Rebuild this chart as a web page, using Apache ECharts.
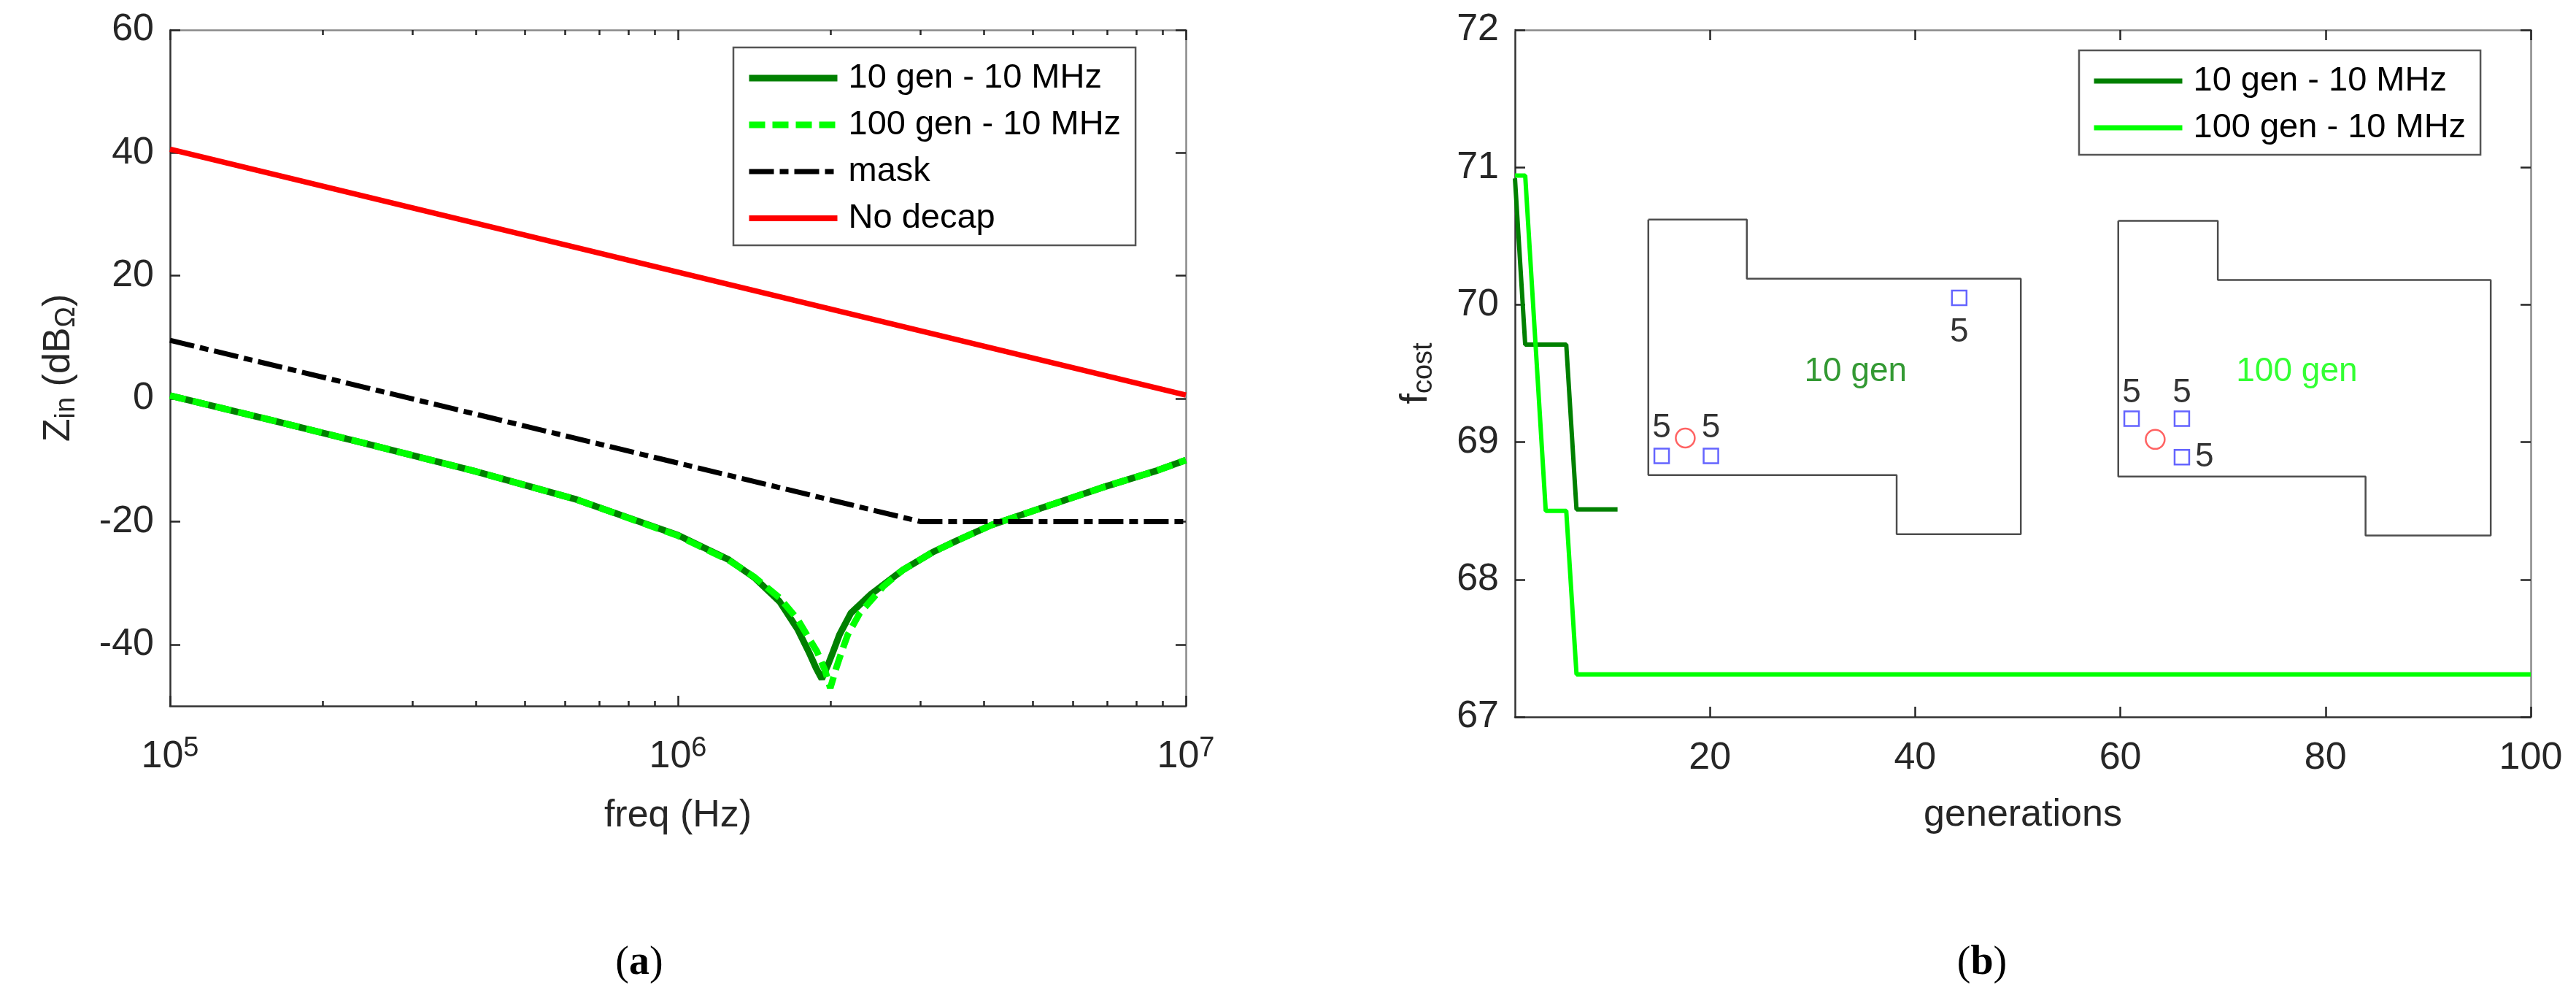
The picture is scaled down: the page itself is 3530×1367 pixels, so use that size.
<!DOCTYPE html>
<html>
<head>
<meta charset="utf-8">
<script src="https://cdn.jsdelivr.net/npm/echarts@6/dist/echarts.min.js"></script>
<style>
    html, body { margin: 0; padding: 0; background: #fff; }
    #chart { width: 3530px; height: 1367px; }
</style>
</head>
<body>
<div id="chart"></div>
<script>
    // (a) input impedance vs frequency
    const freqs10Gen = [1e5, 1.585e5, 2.512e5, 3.981e5, 6.31e5, 1e6, 1.259e6, 1.413e6, 1.585e6, 1.72e6, 1.81e6, 1.87e6, 1.92e6, 1.97e6, 2.02e6, 2.08e6, 2.19e6, 2.4e6, 2.77e6, 3.17e6, 3.52e6, 4.13e6, 5.24e6, 6.82e6, 8.77e6, 1e7];
    const zin10Gen = [0.5, -3.5, -7.6, -11.8, -16.4, -22.2, -26.2, -29.1, -33.0, -37.5, -41.2, -43.8, -45.6, -43.5, -41.2, -38.4, -34.9, -31.8, -27.9, -25.0, -23.2, -20.6, -17.7, -14.5, -11.7, -10.0];
    const freqs100Gen = [1e5, 1.585e5, 2.512e5, 3.981e5, 6.31e5, 1e6, 1.259e6, 1.413e6, 1.585e6, 1.72e6, 1.88e6, 1.95e6, 1.995e6, 2.05e6, 2.1e6, 2.16e6, 2.28e6, 2.54e6, 2.77e6, 3.17e6, 3.52e6, 4.13e6, 5.24e6, 6.82e6, 8.77e6, 1e7];
    const zin100Gen = [0.5, -3.5, -7.6, -11.8, -16.4, -22.3, -26.3, -29.0, -32.4, -35.9, -41.2, -44.3, -47.1, -43.8, -41.2, -38.4, -34.9, -30.5, -27.9, -25.0, -23.2, -20.6, -17.7, -14.5, -11.7, -10.0];
    const maskFreqs = [1e5, 3e6, 1e7];
    const maskZin = [9.5, -20, -20];
    const noDecapFreqs = [1e5, 1e7];
    const noDecapZin = [40.6, 0.6];
    const zinTicks = [-40, -20, 0, 20, 40, 60];
    const minorFreqs = [2e5, 3e5, 4e5, 5e5, 6e5, 7e5, 8e5, 9e5, 2e6, 3e6, 4e6, 5e6, 6e6, 7e6, 8e6, 9e6];

    // (b) cost function vs generations
    const gens10 = [1, 2, 6, 7, 11];
    const cost10 = [70.92, 69.71, 69.71, 68.51, 68.51];
    const gens100 = [1, 2, 3, 4, 6, 7, 100];
    const cost100 = [70.94, 70.94, 69.72, 68.50, 68.50, 67.31, 67.31];
    const genTicks = [20, 40, 60, 80, 100];

    // board outlines drawn inside (b)
    const board10X = [14.0, 23.6, 23.6, 50.3, 50.3, 38.2, 38.2, 14.0, 14.0];
    const board10Y = [70.62, 70.62, 70.19, 70.19, 68.33, 68.33, 68.76, 68.76, 70.62];
    const board100X = [59.8, 69.5, 69.5, 96.1, 96.1, 83.9, 83.9, 59.8, 59.8];
    const board100Y = [70.61, 70.61, 70.18, 70.18, 68.32, 68.32, 68.75, 68.75, 70.61];
    const decapX = [15.3, 20.1, 44.3, 61.1, 66.0, 66.0];
    const decapY = [68.90, 68.90, 70.05, 69.17, 69.17, 68.89];
    const portX = [17.6, 63.4];
    const portY = [69.03, 69.02];
    const decapLabelX = [15.3, 20.1, 44.3, 61.1, 66.0, 68.2];
    const decapLabelY = [69.10, 69.10, 69.80, 69.36, 69.36, 68.89];
    const decapLabels = ['5', '5', '5', '5', '5', '5'];
    const boardNames = ['10 gen', '100 gen'];
    const boardNameX = [34.2, 77.2];
    const boardNameY = [69.51, 69.51];

    const FONT = '"Liberation Sans", Arial, Helvetica, sans-serif';
    const SERIF = '"Liberation Serif", "Times New Roman", serif';
    const TXT = '#262626';
    const DARK = '#008000';
    const LIGHT = '#00ff00';

    function pairs(xs, ys) {
        return xs.map((x, i) => [x, ys[i]]);
    }

    // MATLAB-like box axis: ticks inside, no grid
    function boxAxis(extra, dark) {
        return Object.assign({
            axisLine: { show: true, onZero: false, lineStyle: { color: dark ? '#333' : '#8a8a8a', width: 2.5 } },
            axisTick: { show: true, inside: true, length: 14, lineStyle: { color: TXT, width: 2.5 } },
            axisLabel: { show: false },
            splitLine: { show: false }
        }, extra);
    }

    function minorAxis(position) {
        return {
            type: 'value', min: 5, max: 7, gridIndex: 0, position: position,
            axisLine: { show: false, onZero: false },
            axisTick: { show: true, inside: true, length: 7, customValues: minorFreqs.map(Math.log10), lineStyle: { color: TXT, width: 2.5 } },
            axisLabel: { show: false },
            splitLine: { show: false }
        };
    }

    function legendBox(left, top, data) {
        return {
            data: data,
            orient: 'vertical', left: left, top: top,
            itemWidth: 121, itemHeight: 14, itemGap: 14,
            padding: [17, 20, 12, 17],
            itemStyle: { opacity: 0 },
            backgroundColor: '#fff', borderColor: '#555', borderWidth: 2.5, borderRadius: 0,
            textStyle: { color: '#000', fontFamily: FONT, fontSize: 47, lineHeight: 50, padding: [0, 0, 0, 10] }
        };
    }

    const tickLabel = { color: TXT, fontFamily: FONT, fontSize: 52, lineHeight: 60 };
    const nameStyle = { color: TXT, fontFamily: FONT, fontSize: 52, lineHeight: 60 };
    const subRich = {
        a: { color: TXT, fontFamily: FONT, fontSize: 52, lineHeight: 60 },
        sub: { color: TXT, fontFamily: FONT, fontSize: 38, lineHeight: 36, verticalAlign: 'bottom' }
    };

    const chart = echarts.init(document.getElementById('chart'));

    const option = {
        backgroundColor: '#fff',
        animation: false,
        grid: [
            { left: 233, top: 41, width: 1392, height: 926 },
            { left: 2076, top: 41, width: 1392, height: 941 }
        ],
        xAxis: [
            boxAxis({
                type: 'log', logBase: 10, min: 1e5, max: 1e7, gridIndex: 0, position: 'bottom',
                name: 'freq (Hz)', nameLocation: 'middle', nameGap: 121, nameTextStyle: nameStyle,
                axisLabel: {
                    show: true, margin: 40,
                    formatter: v => '{b|10}{s|' + Math.round(Math.log10(v)) + '}',
                    rich: {
                        b: { color: TXT, fontFamily: FONT, fontSize: 52, lineHeight: 60 },
                        s: { color: TXT, fontFamily: FONT, fontSize: 38, lineHeight: 34, verticalAlign: 'top' }
                    }
                }
            }, true),
            boxAxis({ type: 'log', logBase: 10, min: 1e5, max: 1e7, gridIndex: 0, position: 'top' }, false),
            minorAxis('bottom'),
            minorAxis('top'),
            boxAxis({
                type: 'value', min: 1, max: 100, gridIndex: 1, position: 'bottom',
                name: 'generations', nameLocation: 'middle', nameGap: 105, nameTextStyle: nameStyle,
                axisTick: { show: true, inside: true, length: 14, customValues: genTicks, lineStyle: { color: TXT, width: 2.5 } },
                axisLabel: Object.assign({ show: true, margin: 27, customValues: genTicks }, tickLabel)
            }, true),
            boxAxis({
                type: 'value', min: 1, max: 100, gridIndex: 1, position: 'top',
                axisTick: { show: true, inside: true, length: 14, customValues: genTicks, lineStyle: { color: TXT, width: 2.5 } }
            }, false)
        ],
        yAxis: [
            boxAxis({
                type: 'value', min: -50, max: 60, gridIndex: 0, position: 'left',
                name: '{a|Z}{sub|in}{a| (dB}{sub|Ω}{a|)}', nameLocation: 'middle', nameGap: 122,
                nameTextStyle: { rich: subRich },
                axisTick: { show: true, inside: true, length: 14, customValues: zinTicks, lineStyle: { color: TXT, width: 2.5 } },
                axisLabel: Object.assign({ show: true, margin: 22, customValues: zinTicks }, tickLabel)
            }, true),
            boxAxis({
                type: 'value', min: -50, max: 60, gridIndex: 0, position: 'right',
                axisTick: { show: true, inside: true, length: 14, customValues: zinTicks, lineStyle: { color: TXT, width: 2.5 } }
            }, false),
            boxAxis({
                type: 'value', min: 67, max: 72, interval: 1, gridIndex: 1, position: 'left',
                name: '{a|f}{sub|cost}', nameLocation: 'middle', nameGap: 105,
                nameTextStyle: { rich: subRich },
                axisLabel: Object.assign({ show: true, margin: 22 }, tickLabel)
            }, true),
            boxAxis({ type: 'value', min: 67, max: 72, interval: 1, gridIndex: 1, position: 'right' }, false)
        ],
        legend: [
            legendBox(1005, 65, [
                { name: '10 gen - 10 MHz', lineStyle: { width: 9 } },
                { name: '100 gen - 10 MHz', lineStyle: { width: 9 } },
                { name: 'mask', lineStyle: { width: 7 } },
                { name: 'No decap', lineStyle: { width: 8 } }
            ]),
            legendBox(2849, 69, [
                { name: '10 gen - 10 MHz', lineStyle: { type: 'solid', color: DARK, width: 7 } },
                { name: '100 gen - 10 MHz', lineStyle: { type: 'solid', color: LIGHT, width: 7 } }
            ])
        ],
        series: [
            {
                name: '10 gen - 10 MHz', type: 'line', xAxisIndex: 0, yAxisIndex: 0,
                data: pairs(freqs10Gen, zin10Gen), symbol: 'none',
                lineStyle: { color: DARK, width: 9 }, itemStyle: { color: DARK }
            },
            {
                name: '100 gen - 10 MHz', type: 'line', xAxisIndex: 0, yAxisIndex: 0,
                data: pairs(freqs100Gen, zin100Gen), symbol: 'none',
                lineStyle: { color: LIGHT, width: 9, type: [22, 10] }, itemStyle: { color: LIGHT }
            },
            {
                name: 'mask', type: 'line', xAxisIndex: 0, yAxisIndex: 0,
                data: pairs(maskFreqs, maskZin), symbol: 'none',
                lineStyle: { color: '#000', width: 7, type: [34, 8, 12, 8] }, itemStyle: { color: '#000' }
            },
            {
                name: 'No decap', type: 'line', xAxisIndex: 0, yAxisIndex: 0,
                data: pairs(noDecapFreqs, noDecapZin), symbol: 'none',
                lineStyle: { color: '#ff0000', width: 7.5 }, itemStyle: { color: '#ff0000' }
            },
            // (b)
            {
                name: 'board10', type: 'line', xAxisIndex: 4, yAxisIndex: 2,
                data: pairs(board10X, board10Y), symbol: 'none',
                lineStyle: { color: '#4d4d4d', width: 2.5 }
            },
            {
                name: 'board100', type: 'line', xAxisIndex: 4, yAxisIndex: 2,
                data: pairs(board100X, board100Y), symbol: 'none',
                lineStyle: { color: '#4d4d4d', width: 2.5 }
            },
            {
                name: 'decaps', type: 'scatter', xAxisIndex: 4, yAxisIndex: 2,
                data: pairs(decapX, decapY), symbol: 'rect', symbolSize: 20,
                itemStyle: { color: 'rgba(0,0,0,0)', borderColor: '#3d3dff', borderWidth: 2.5 }
            },
            {
                name: 'ports', type: 'scatter', xAxisIndex: 4, yAxisIndex: 2,
                data: pairs(portX, portY), symbol: 'circle', symbolSize: 26,
                itemStyle: { color: 'rgba(0,0,0,0)', borderColor: '#ff3b3b', borderWidth: 2.5 }
            },
            {
                name: 'decapLabels', type: 'scatter', xAxisIndex: 4, yAxisIndex: 2,
                data: decapLabelX.map((x, i) => ({ value: [x, decapLabelY[i]], name: decapLabels[i] })),
                symbolSize: 1, itemStyle: { color: 'rgba(0,0,0,0)' },
                label: { show: true, position: 'inside', formatter: '{b}', color: '#000', fontFamily: FONT, fontSize: 46 }
            },
            {
                name: 'boardNames', type: 'scatter', xAxisIndex: 4, yAxisIndex: 2,
                data: boardNameX.map((x, i) => ({ value: [x, boardNameY[i]], name: boardNames[i] })),
                symbolSize: 1, itemStyle: { color: 'rgba(0,0,0,0)' },
                label: {
                    show: true, position: 'inside', fontFamily: FONT, fontSize: 46,
                    formatter: p => (p.dataIndex === 0 ? '{d|' : '{l|') + p.name + '}',
                    rich: {
                        d: { color: DARK, fontFamily: FONT, fontSize: 46 },
                        l: { color: LIGHT, fontFamily: FONT, fontSize: 46 }
                    }
                }
            },
            {
                name: '10 gen - 10 MHz', type: 'line', xAxisIndex: 4, yAxisIndex: 2,
                data: pairs(gens10, cost10), symbol: 'none',
                lineStyle: { color: DARK, width: 6 }, itemStyle: { color: DARK }
            },
            {
                name: '100 gen - 10 MHz', type: 'line', xAxisIndex: 4, yAxisIndex: 2,
                data: pairs(gens100, cost100), symbol: 'none',
                lineStyle: { color: LIGHT, width: 6 }, itemStyle: { color: LIGHT }
            }
        ],
        graphic: [
            {
                type: 'text', x: 876, y: 1320,
                style: {
                    text: '{p|(}{b|a}{p|)}', align: 'center', verticalAlign: 'middle',
                    rich: {
                        p: { fontFamily: SERIF, fontSize: 56, fill: '#000' },
                        b: { fontFamily: SERIF, fontSize: 56, fontWeight: 'bold', fill: '#000' }
                    }
                }
            },
            {
                type: 'text', x: 2716, y: 1320,
                style: {
                    text: '{p|(}{b|b}{p|)}', align: 'center', verticalAlign: 'middle',
                    rich: {
                        p: { fontFamily: SERIF, fontSize: 56, fill: '#000' },
                        b: { fontFamily: SERIF, fontSize: 56, fontWeight: 'bold', fill: '#000' }
                    }
                }
            }
        ]
    };

    chart.setOption(option);
</script>
</body>
</html>
